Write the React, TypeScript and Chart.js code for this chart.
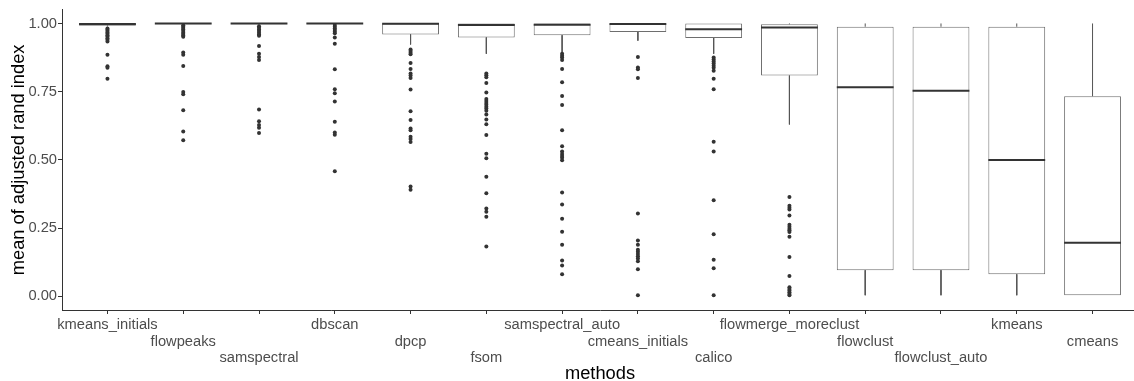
import React, { useEffect, useRef } from "react";
import { Chart, registerables } from "chart.js";

Chart.register(...registerables);

const methods = [
  "kmeans_initials",
  "flowpeaks",
  "samspectral",
  "dbscan",
  "dpcp",
  "fsom",
  "samspectral_auto",
  "cmeans_initials",
  "calico",
  "flowmerge_moreclust",
  "flowclust",
  "flowclust_auto",
  "kmeans",
  "cmeans",
];

const whiskerLow = [0.99, 0.996, 0.996, 0.997, 0.923, 0.889, 0.893, 0.937, 0.889, 0.63, 0.004, 0.004, 0.004, 0.004];
const q1 = [0.992, 0.997, 0.997, 0.998, 0.96, 0.949, 0.957, 0.969, 0.947, 0.809, 0.096, 0.096, 0.081, 0.004];
const medians = [0.998, 1.0, 1.0, 1.0, 0.999, 0.994, 0.995, 0.998, 0.979, 0.985, 0.766, 0.753, 0.5, 0.196];
const q3 = [1.0, 1.0, 1.0, 1.0, 1.0, 1.0, 1.0, 1.0, 1.0, 0.997, 0.988, 0.988, 0.988, 0.733];
const whiskerHigh = [1.0, 1.0, 1.0, 1.0, 1.0, 1.0, 1.0, 1.0, 1.0, 1.0, 1.0, 1.0, 1.0, 1.0];

const outliers: number[][] = [
  [0.982, 0.977, 0.972, 0.967, 0.962, 0.957, 0.952, 0.946, 0.94, 0.934, 0.885, 0.843, 0.838, 0.797],
  [0.993, 0.988, 0.983, 0.978, 0.972, 0.966, 0.961, 0.956, 0.951, 0.894, 0.885, 0.844, 0.749, 0.741, 0.682, 0.604, 0.572],
  [0.99, 0.984, 0.978, 0.972, 0.966, 0.96, 0.955, 0.917, 0.889, 0.877, 0.866, 0.685, 0.642, 0.628, 0.618, 0.599],
  [0.994, 0.988, 0.982, 0.976, 0.97, 0.964, 0.949, 0.926, 0.832, 0.759, 0.744, 0.714, 0.64, 0.6, 0.592, 0.458],
  [0.905, 0.899, 0.893, 0.887, 0.855, 0.833, 0.817, 0.809, 0.8, 0.758, 0.678, 0.646, 0.615, 0.609, 0.585, 0.577, 0.566, 0.403, 0.391],
  [0.817, 0.81, 0.803, 0.782, 0.747, 0.723, 0.716, 0.709, 0.702, 0.695, 0.688, 0.68, 0.666, 0.648, 0.631, 0.591, 0.523, 0.506, 0.438, 0.378, 0.322, 0.31, 0.292, 0.183],
  [0.889, 0.882, 0.875, 0.866, 0.833, 0.785, 0.734, 0.701, 0.609, 0.55, 0.531, 0.522, 0.514, 0.508, 0.499, 0.381, 0.337, 0.284, 0.237, 0.189, 0.131, 0.113, 0.081],
  [0.877, 0.839, 0.832, 0.8, 0.304, 0.205, 0.189, 0.171, 0.163, 0.155, 0.147, 0.139, 0.129, 0.099, 0.004],
  [0.875, 0.868, 0.861, 0.853, 0.845, 0.838, 0.827, 0.797, 0.759, 0.567, 0.531, 0.352, 0.228, 0.134, 0.103, 0.004],
  [0.364, 0.332, 0.325, 0.318, 0.296, 0.262, 0.255, 0.248, 0.242, 0.236, 0.218, 0.144, 0.075, 0.033, 0.027, 0.021, 0.015, 0.009, 0.004],
  [],
  [],
  [],
  [],
];

const yTicks = [0, 0.25, 0.5, 0.75, 1.0];

const FONT = "'Liberation Sans', Arial, Helvetica, sans-serif";

export default function App() {
  const ref = useRef<HTMLCanvasElement>(null);

  useEffect(() => {
    document.body.style.margin = "0";
    const canvas = ref.current;
    if (!canvas) return;
    const half = 0.375;

    const boxData = methods.map((_, i) => ({ x: i, y: [q1[i], q3[i]] }));
    const medianData: any[] = [];
    const whiskerData: any[] = [];
    const outlierData: any[] = [];
    methods.forEach((_, i) => {
      medianData.push({ x: i - half, y: medians[i] }, { x: i + half, y: medians[i] }, { x: i + 0.5, y: null });
      if (whiskerHigh[i] > q3[i]) {
        whiskerData.push({ x: i, y: q3[i] }, { x: i, y: whiskerHigh[i] }, { x: i, y: null });
      }
      if (whiskerLow[i] < q1[i]) {
        whiskerData.push({ x: i, y: q1[i] }, { x: i, y: whiskerLow[i] }, { x: i, y: null });
      }
      outliers[i].forEach((v) => outlierData.push({ x: i, y: v }));
    });

    const chart = new Chart(canvas, {
      type: "bar",
      data: {
        datasets: [
          {
            type: "line",
            data: whiskerData,
            borderColor: "#555555",
            borderWidth: 1,
            pointRadius: 0,
            spanGaps: false,
            order: 4,
          } as any,
          {
            type: "bar",
            data: boxData,
            backgroundColor: "#ffffff",
            borderColor: "#6e6e6e",
            borderWidth: 1,
            borderSkipped: false,
            barPercentage: 0.75,
            categoryPercentage: 1,
            order: 3,
          } as any,
          {
            type: "line",
            data: medianData,
            borderColor: "#333333",
            borderWidth: 2,
            pointRadius: 0,
            spanGaps: false,
            order: 2,
          } as any,
          {
            type: "scatter",
            data: outlierData,
            pointRadius: 2,
            pointBackgroundColor: "#333333",
            pointBorderWidth: 0,
            order: 1,
          } as any,
        ],
      },
      options: {
        animation: false,
        responsive: false,
        events: [],
        layout: { padding: { top: 3, right: 2, left: 0, bottom: 0 } },
        plugins: {
          legend: { display: false },
          tooltip: { enabled: false },
        },
        scales: {
          x: {
            type: "linear",
            min: -0.6,
            max: 13.6,
            offset: false,
            afterBuildTicks: (s: any) => {
              s.ticks = methods.map((_, i) => ({ value: i }));
            },
            afterFit: (s: any) => {
              s.height = 85;
            },
            ticks: {
              autoSkip: false,
              maxRotation: 0,
              minRotation: 0,
              padding: 3,
              color: "#4d4d4d",
              font: { family: FONT, size: 14.7, lineHeight: 1.12 },
              callback: (v: any) => {
                const i = Math.round(Number(v));
                const lines: string[] = [];
                for (let k = 0; k < i % 3; k++) lines.push("");
                lines.push(methods[i]);
                return lines;
              },
            },
            grid: {
              display: true,
              drawOnChartArea: false,
              drawTicks: true,
              tickLength: 4,
              color: "#333333",
              offset: false,
            },
            border: { display: true, color: "#333333", width: 1 },
            title: {
              display: true,
              text: "methods",
              color: "#000000",
              font: { family: FONT, size: 18.3, lineHeight: 1.2 },
              padding: { top: 0, bottom: 10 },
            },
          },
          y: {
            type: "linear",
            min: -0.05,
            max: 1.05,
            afterBuildTicks: (s: any) => {
              s.ticks = yTicks.map((v) => ({ value: v }));
            },
            afterFit: (s: any) => {
              s.width = 62;
            },
            ticks: {
              padding: 1,
              color: "#4d4d4d",
              font: { family: FONT, size: 14.7 },
              callback: (v: any) => Number(v).toFixed(2),
            },
            grid: {
              display: true,
              drawOnChartArea: false,
              drawTicks: true,
              tickLength: 4,
              color: "#333333",
            },
            border: { display: true, color: "#333333", width: 1 },
            title: {
              display: true,
              text: "mean of adjusted rand index",
              color: "#000000",
              font: { family: FONT, size: 18.3, lineHeight: 1.2 },
              padding: { top: 8, bottom: 0 },
            },
          },
        },
      } as any,
    });

    return () => chart.destroy();
  }, []);

  return (
    <div style={{ width: 1134, height: 381, overflow: "hidden", background: "#ffffff" }}>
      <canvas ref={ref} width={1142} height={395} style={{ display: "block" }} />
    </div>
  );
}
